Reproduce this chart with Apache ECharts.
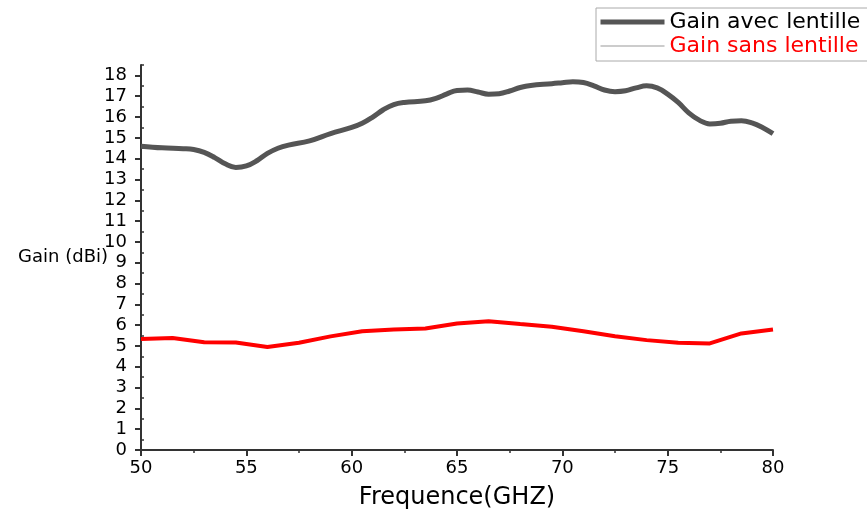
<!DOCTYPE html>
<html><head><meta charset="utf-8">
<script src="https://cdn.jsdelivr.net/npm/echarts@6/dist/echarts.min.js"></script>
<style>html,body{margin:0;padding:0;background:#fff}#c{width:867px;height:513px}</style>
</head><body><div id="c"></div>
<script>
// Gain avec lentille (dark curve): frequency (GHz) and gain (dBi)
var avecFreq = [50,51,52,52.5,53,53.5,54,54.5,55,55.5,56,56.5,57,58,59,60,60.5,61,61.5,62,62.5,63.5,64,64.5,65,65.5,66,66.5,67,67.5,68,68.5,69.5,70,70.5,71,71.5,72,72.5,73,73.5,74,74.5,75,75.5,76,76.5,77,77.5,78,78.5,79,79.5,80];
var avecGain = [14.6,14.52,14.48,14.44,14.3,14.05,13.75,13.58,13.65,13.9,14.25,14.5,14.65,14.85,15.2,15.5,15.7,16.0,16.35,16.6,16.7,16.78,16.9,17.1,17.28,17.3,17.2,17.1,17.12,17.25,17.42,17.52,17.6,17.65,17.7,17.66,17.5,17.3,17.22,17.26,17.4,17.5,17.4,17.1,16.7,16.2,15.85,15.67,15.7,15.8,15.82,15.72,15.5,15.2];
// Gain sans lentille (red curve)
var sansFreq = [50,51.5,53,54.5,56,57.5,59,60.5,62,63.5,65,66.5,68,69.5,71,72.5,74,75.5,77,78.5,80];
var sansGain = [5.33,5.38,5.18,5.17,4.95,5.15,5.46,5.71,5.79,5.84,6.08,6.19,6.05,5.92,5.71,5.47,5.28,5.15,5.12,5.6,5.79];
var seriesNames = ['Gain avec lentille','Gain sans lentille'];
var xName = 'Frequence(GHZ)';
var yName = 'Gain (dBi)';
var yTicks = [0,1,2,3,4,5,6,7,8,9,10,11,12,13,14,15,16,17,18];
var yMinorTicks = [0.5,1.5,2.5,3.5,4.5,5.5,6.5,7.5,8.5,9.5,10.5,11.5,12.5,13.5,14.5,15.5,16.5,17.5,18.5];

function pairs(xs, ys){ return xs.map(function(x,i){ return [x, ys[i]]; }); }
var font = 'DejaVu Sans, sans-serif';
var axisColor = '#333';
var chart = echarts.init(document.getElementById('c'));
chart.setOption({
  animation:false,
  backgroundColor:'#fff',
  grid:{left:141, right:94, top:65, bottom:63, outerBoundsMode:'none', containLabel:false},
  legend:{
    orient:'vertical', left:596, top:8, itemWidth:64, itemHeight:14, itemGap:2,
    padding:[3,12,4,2], borderColor:'#aaa', borderWidth:1,
    textStyle:{fontFamily:font, fontSize:22, lineHeight:22, color:'#000'},
    itemStyle:{opacity:0},
    data:[
      {name:seriesNames[0], textStyle:{color:'#000'}, itemStyle:{opacity:0}, lineStyle:{color:'#555', width:5}},
      {name:seriesNames[1], textStyle:{color:'#ff0000'}, itemStyle:{opacity:0}, lineStyle:{color:'#bbb', width:1.5}}
    ]
  },
  xAxis:{
    type:'value', min:50, max:80, interval:5,
    name:xName, nameLocation:'middle', nameGap:36, nameMoveOverlap:false,
    nameTextStyle:{fontFamily:font, fontSize:24, color:'#000'},
    axisLine:{lineStyle:{color:axisColor, width:2}},
    axisTick:{show:true, length:6, lineStyle:{color:axisColor, width:2}},
    minorTick:{show:true, splitNumber:2, length:3, lineStyle:{color:axisColor, width:1.5}},
    splitLine:{show:false},
    axisLabel:{fontFamily:font, fontSize:18, color:'#000', margin:9}
  },
  yAxis:[{
    type:'value', min:0, max:18.5, interval:1,
    name:yName, nameLocation:'middle', nameRotate:0, nameGap:33, nameMoveOverlap:false,
    nameTextStyle:{fontFamily:font, fontSize:18, color:'#000', align:'right', verticalAlign:'middle'},
    axisLine:{show:true, lineStyle:{color:axisColor, width:2}},
    axisTick:{show:true, length:6, customValues:yTicks, lineStyle:{color:axisColor, width:2}},
    splitLine:{show:false},
    axisLabel:{fontFamily:font, fontSize:18, color:'#000', margin:14, customValues:yTicks}
  },{
    type:'value', min:0, max:18.5, position:'left',
    axisLine:{show:false},
    axisTick:{show:true, inside:true, length:3, customValues:yMinorTicks, lineStyle:{color:axisColor, width:1.5}},
    axisLabel:{show:false},
    splitLine:{show:false}
  }],
  series:[
    {name:seriesNames[0], type:'line', data:pairs(avecFreq, avecGain), smooth:0.4, showSymbol:false, symbol:'none',
     lineStyle:{color:'#555', width:5}, itemStyle:{color:'#555'}},
    {name:seriesNames[1], type:'line', data:pairs(sansFreq, sansGain), showSymbol:false, symbol:'none',
     lineStyle:{color:'#ff0000', width:4}, itemStyle:{color:'#ff0000'}}
  ]
});
</script></body></html>
